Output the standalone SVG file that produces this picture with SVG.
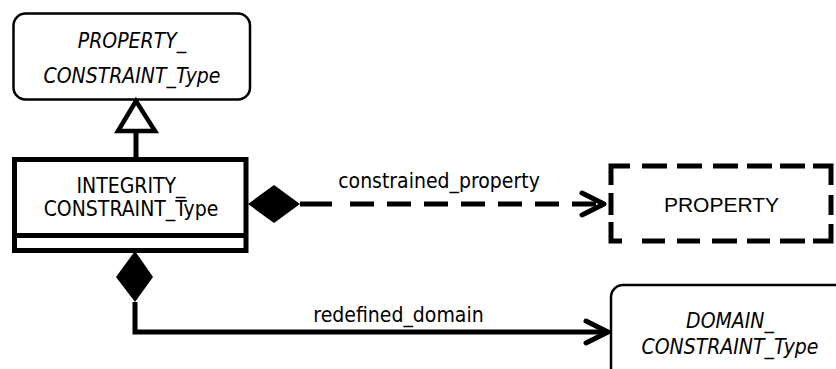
<svg xmlns="http://www.w3.org/2000/svg" width="836" height="369" viewBox="0 0 836 369">
<style>
.t{font-family:"DejaVu Sans Condensed","DejaVu Sans",sans-serif;font-stretch:condensed;font-size:21px;fill:#000;text-anchor:middle}
.i{font-style:italic}
.a{font-family:"Liberation Sans",Arial,sans-serif;font-size:21px;fill:#000;text-anchor:middle}
.thin{fill:#fff;stroke:#000;stroke-width:2.5}
.thick{fill:none;stroke:#000;stroke-width:5}
</style>
<rect width="836" height="369" fill="#fff"/>
<g id="property_constraint_type">
<rect class="thin" x="13.5" y="13.5" width="236.5" height="86" rx="12"/>
<text class="t i" x="132" y="48">PROPERTY_</text>
<text class="t i" x="132" y="83">CONSTRAINT_Type</text>
</g>
<g id="integrity_constraint_type">
<rect x="14.5" y="159.5" width="231.5" height="91" fill="#fff" stroke="#000" stroke-width="5"/>
<line x1="14.5" y1="235.5" x2="246" y2="235.5" stroke="#000" stroke-width="5"/>
<text class="t" x="131" y="193">INTEGRITY_</text>
<text class="t" x="131" y="216">CONSTRAINT_Type</text>
</g>
<g id="property">
<path class="thick" d="M611,185V166H630M642,166H667M677,166H702M713,166H738M747,166H772M780,166H805M813,166H831V185M831,195V215M831,224V241H813M805,241H780M770,241H747M737,241H712M700,241H677M665,241H642M622,241H611V222M611,215V193"/>
<text class="a" x="721.5" y="212">PROPERTY</text>
</g>
<g id="domain_constraint_type">
<rect class="thin" x="611" y="285" width="260" height="110" rx="12"/>
<text class="t i" x="730" y="328">DOMAIN_</text>
<text class="t i" x="730" y="354">CONSTRAINT_Type</text>
</g>
<g id="connectors">
<line x1="136" y1="131" x2="136" y2="158" stroke="#000" stroke-width="5"/>
<polygon points="136,101 118,131 155,131" fill="#fff" stroke="#000" stroke-width="4.5" stroke-linejoin="miter"/>
<polygon points="248,204 274,185 300,204 274,223" fill="#000"/>
<line x1="300" y1="204" x2="332" y2="204" stroke="#000" stroke-width="5"/>
<line x1="350" y1="204" x2="603" y2="204" stroke="#000" stroke-width="5" stroke-dasharray="24 13"/>
<polyline points="582,193 604,204 582,215" fill="none" stroke="#000" stroke-width="5" stroke-linecap="round" stroke-linejoin="round"/>
<text class="t" x="439" y="188">constrained_property</text>
<polygon points="135,251 116,277 135,302 153,277" fill="#000"/>
<polyline points="135,302 135,332 606,332" fill="none" stroke="#000" stroke-width="5"/>
<polyline points="586,321 608,332 586,343" fill="none" stroke="#000" stroke-width="5" stroke-linecap="round" stroke-linejoin="round"/>
<text class="t" x="398.5" y="322">redefined_domain</text>
</g>
</svg>
